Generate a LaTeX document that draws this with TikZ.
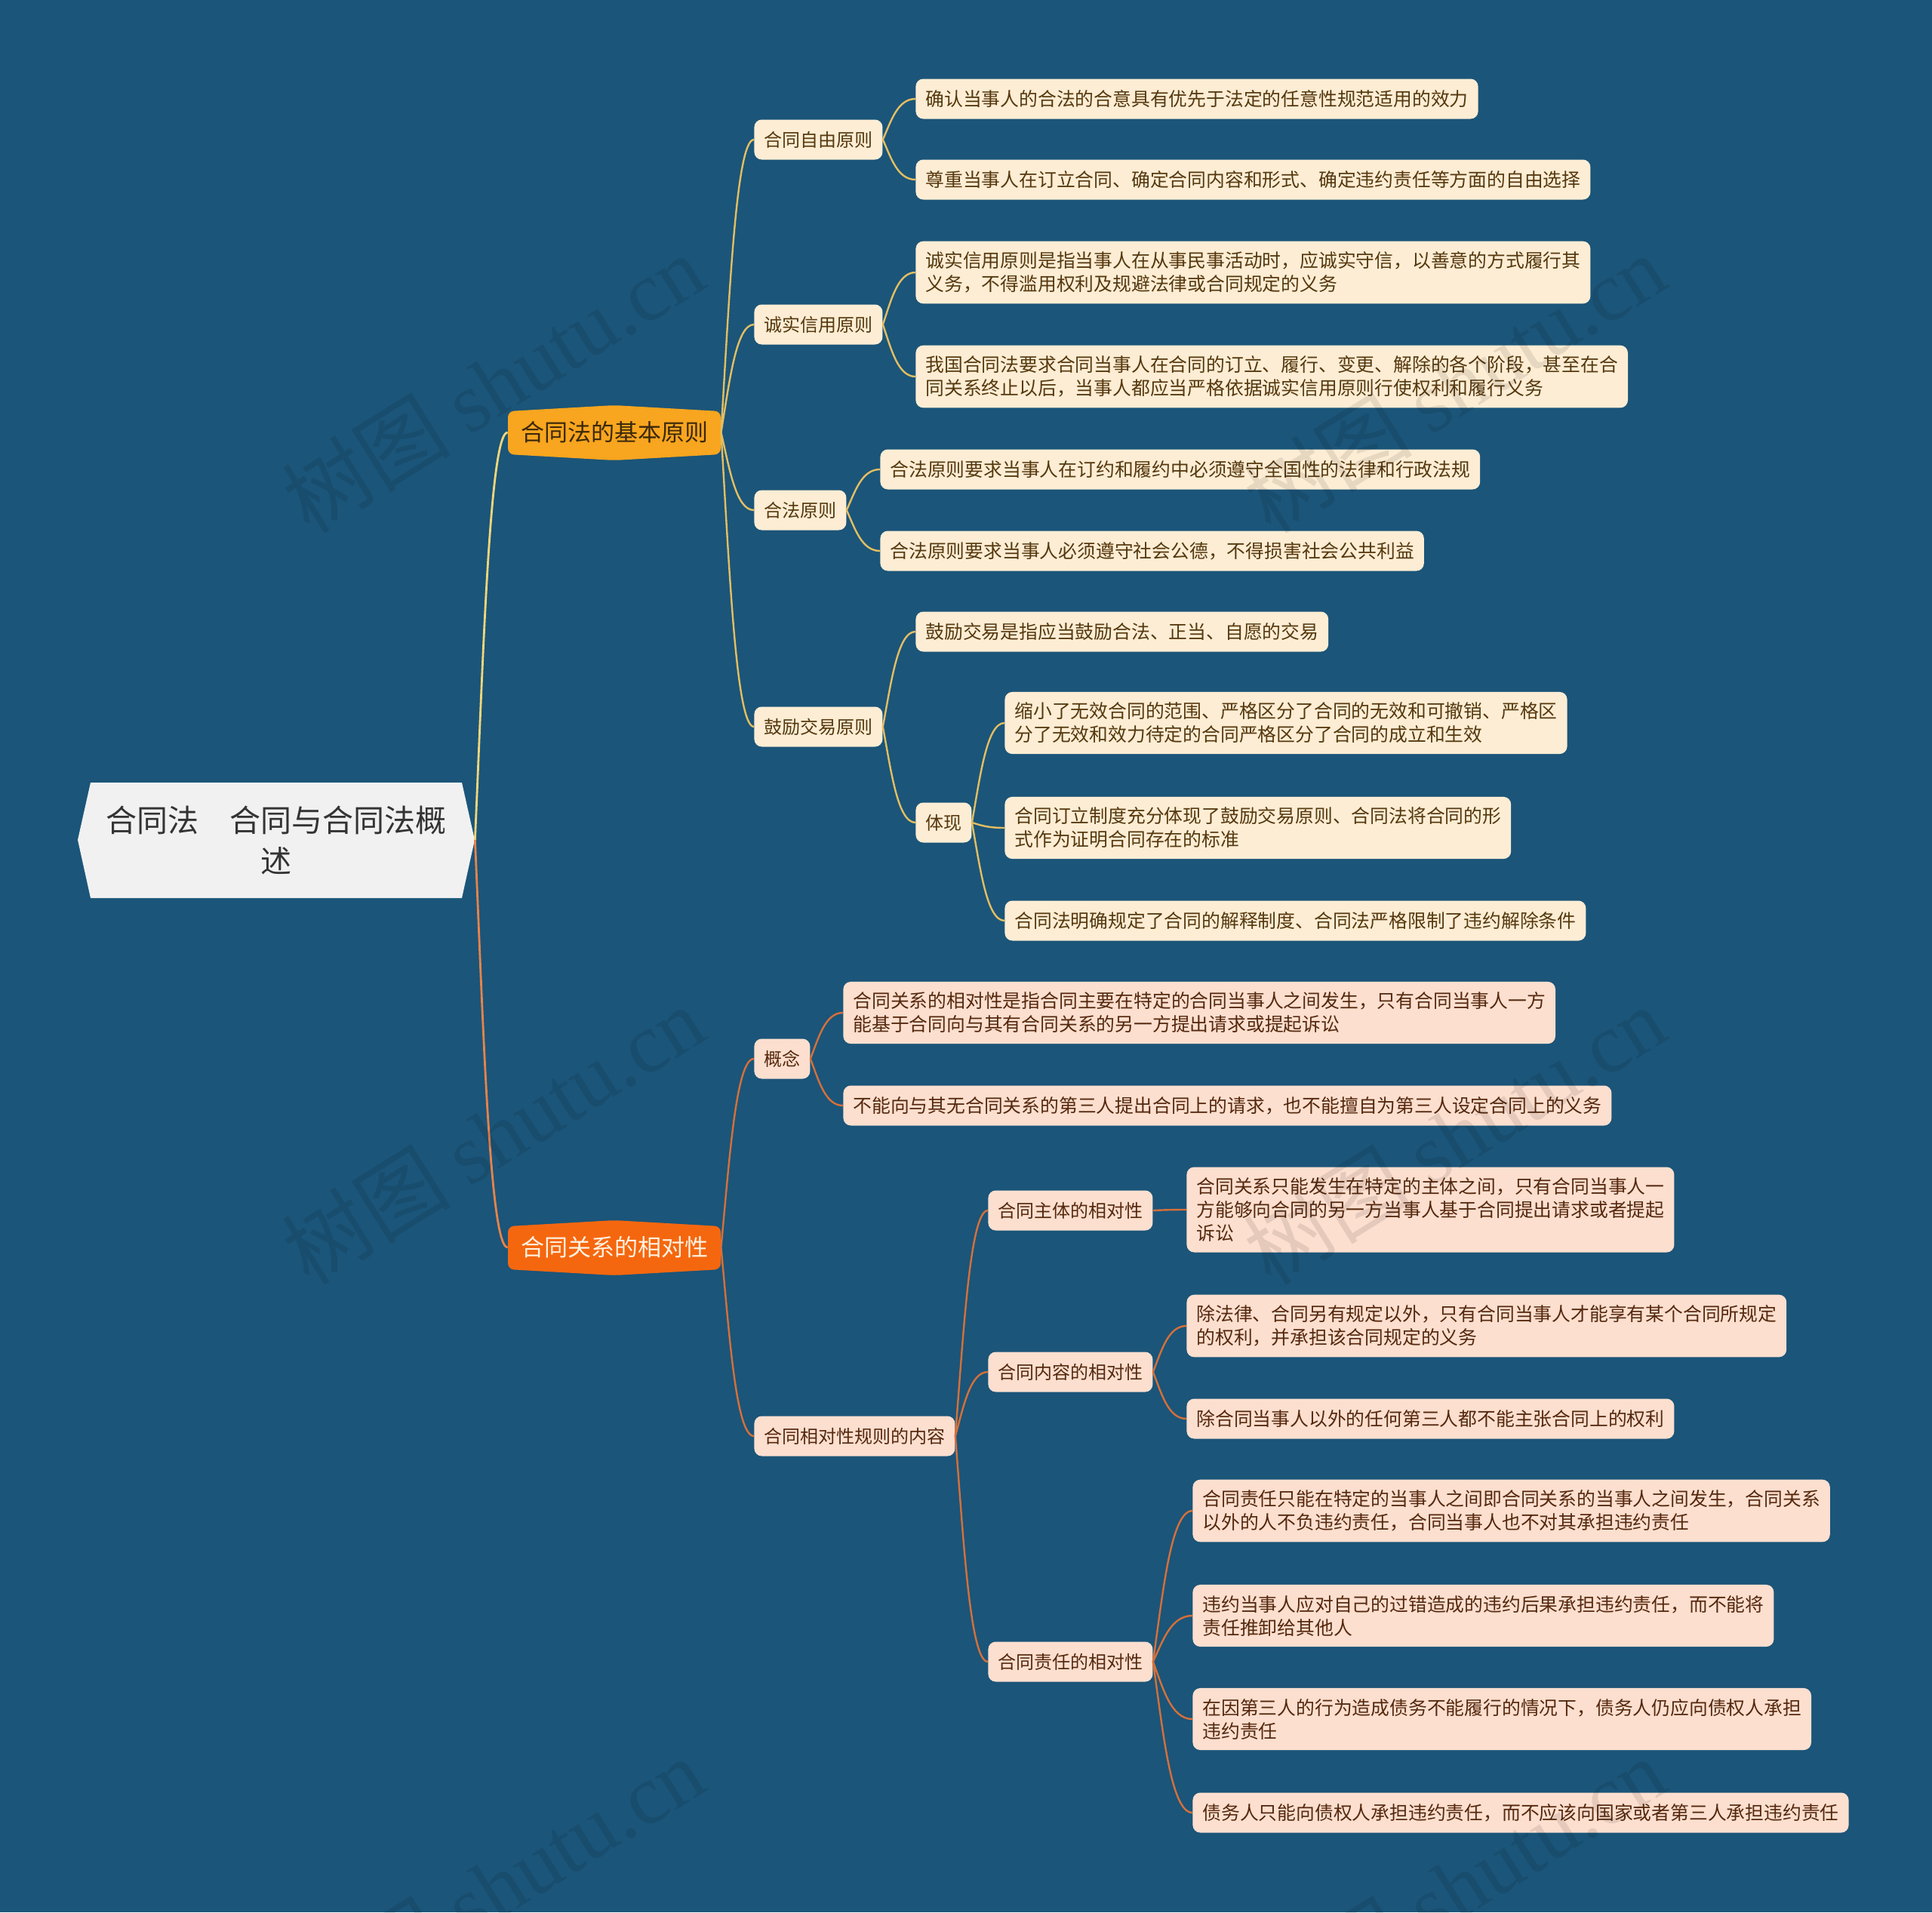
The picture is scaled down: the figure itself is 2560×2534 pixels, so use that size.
\documentclass[tikz,border=0pt]{standalone}
\usepackage{fontspec}
\setmainfont{Noto Sans CJK SC}
\newfontfamily\wmlatin{Liberation Serif}
\usetikzlibrary{calc}
\definecolor{bg}{HTML}{1B5579}
\definecolor{rootfill}{HTML}{F1F1F1}
\definecolor{roottxt}{HTML}{333333}
\definecolor{pfillU}{HTML}{F8A51F}
\definecolor{ptxtU}{HTML}{3A280A}
\definecolor{pfillL}{HTML}{F5670F}
\definecolor{ptxtL}{HTML}{FFF2E2}
\definecolor{boxU}{HTML}{FDEDD4}
\definecolor{txtU}{HTML}{55380E}
\definecolor{boxL}{HTML}{FCDFCF}
\definecolor{txtL}{HTML}{55280E}
\definecolor{lineU}{HTML}{E3BE62}
\definecolor{lineRU}{HTML}{F2D67A}
\definecolor{lineL}{HTML}{D5703A}
\definecolor{lineRL}{HTML}{E8834A}
\tikzset{
  midU/.style={anchor=west, fill=boxU, text=txtU, rounded corners=5pt,
    inner xsep=6.5pt, inner ysep=7pt, minimum height=26.5pt, align=left,
    font=\fontsize{12pt}{15.5pt}\selectfont},
  midL/.style={midU, fill=boxL, text=txtL},
  leafU/.style={midU, font=\fontsize{12.4pt}{15.5pt}\selectfont},
  leafL/.style={midL, font=\fontsize{12.4pt}{15.5pt}\selectfont},
  lvlone/.style={minimum width=141pt, minimum height=28.5pt, inner sep=0pt,
    font=\fontsize{15.5pt}{19pt}\selectfont},
  cU/.style={draw=lineU, line width=1.2pt},
  cL/.style={draw=lineL, line width=1.2pt},
  cRU/.style={draw=lineRU, line width=1.4pt},
  cRL/.style={draw=lineRL, line width=1.4pt},
  wm/.style={rotate=32, text=black, opacity=0.09, font=\fontsize{56pt}{60pt}\selectfont}
}
\newcommand\cnx[3]{\draw[#1] let \p1=(#2), \p2=(#3) in (\p1) .. controls ({\x1+0.25*(\x2-\x1)},{\y1+0.45*(\y2-\y1)}) and ({\x1+0.45*(\x2-\x1)},{\y2}) .. (\p2);}
\begin{document}
\begin{tikzpicture}[x=0.5pt,y=-0.5pt]
\fill[bg] (0,0) rectangle (2560,2534);
\useasboundingbox (0,0) rectangle (2560,2534);

% root
\fill[rootfill] (103,1113) -- (120,1037) -- (612,1037) -- (629,1113) -- (612,1190) -- (120,1190) -- cycle;
\node[minimum width=263pt, minimum height=76pt, inner sep=0pt, text=roottxt, align=center,
  font=\fontsize{20.5pt}{27pt}\selectfont] (root) at (366,1113) {合同法　合同与合同法概\\述};

% level one
\fill[pfillU, rounded corners=4pt] (673,545) -- (814,537) -- (955,545) -- (955,602) -- (814,610) -- (673,602) -- cycle;
\node[lvlone, text=ptxtU] (P1) at (814,573) {合同法的基本原则};
\fill[pfillL, rounded corners=4pt] (673,1625) -- (814,1617) -- (955,1625) -- (955,1682) -- (814,1690) -- (673,1682) -- cycle;
\node[lvlone, text=ptxtL] (P2) at (814,1653) {合同关系的相对性};

% level two (upper)
\node[midU] (A) at (999,185) {合同自由原则};
\node[midU] (B) at (999,430) {诚实信用原则};
\node[midU] (C) at (999,676) {合法原则};
\node[midU] (D) at (999,963) {鼓励交易原则};
\node[midU] (E) at (1213,1090) {体现};

% leaves (upper)
\node[leafU] (L1) at (1213,131) {确认当事人的合法的合意具有优先于法定的任意性规范适用的效力};
\node[leafU] (L2) at (1213,238) {尊重当事人在订立合同、确定合同内容和形式、确定违约责任等方面的自由选择};
\node[leafU] (L3) at (1213,361) {诚实信用原则是指当事人在从事民事活动时，应诚实守信，以善意的方式履行其\\义务，不得滥用权利及规避法律或合同规定的义务};
\node[leafU] (L4) at (1213,499) {我国合同法要求合同当事人在合同的订立、履行、变更、解除的各个阶段，甚至在合\\同关系终止以后，当事人都应当严格依据诚实信用原则行使权利和履行义务};
\node[leafU] (L5) at (1166,622) {合法原则要求当事人在订约和履约中必须遵守全国性的法律和行政法规};
\node[leafU] (L6) at (1166,730) {合法原则要求当事人必须遵守社会公德，不得损害社会公共利益};
\node[leafU] (L7) at (1213,837) {鼓励交易是指应当鼓励合法、正当、自愿的交易};
\node[leafU] (L8) at (1331,958) {缩小了无效合同的范围、严格区分了合同的无效和可撤销、严格区\\分了无效和效力待定的合同严格区分了合同的成立和生效};
\node[leafU] (L9) at (1331,1097) {合同订立制度充分体现了鼓励交易原则、合同法将合同的形\\式作为证明合同存在的标准};
\node[leafU] (L10) at (1331,1220) {合同法明确规定了合同的解释制度、合同法严格限制了违约解除条件};

% level two (lower)
\node[midL] (F) at (999,1403) {概念};
\node[midL] (G) at (999,1903) {合同相对性规则的内容};
\node[midL] (H) at (1309,1604) {合同主体的相对性};
\node[midL] (I) at (1309,1818) {合同内容的相对性};
\node[midL] (J) at (1309,2202) {合同责任的相对性};

% leaves (lower)
\node[leafL] (L11) at (1117,1342) {合同关系的相对性是指合同主要在特定的合同当事人之间发生，只有合同当事人一方\\能基于合同向与其有合同关系的另一方提出请求或提起诉讼};
\node[leafL] (L12) at (1117,1465) {不能向与其无合同关系的第三人提出合同上的请求，也不能擅自为第三人设定合同上的义务};
\node[leafL] (L13) at (1572,1603) {合同关系只能发生在特定的主体之间，只有合同当事人一\\方能够向合同的另一方当事人基于合同提出请求或者提起\\诉讼};
\node[leafL] (L14) at (1572,1757) {除法律、合同另有规定以外，只有合同当事人才能享有某个合同所规定\\的权利，并承担该合同规定的义务};
\node[leafL] (L15) at (1572,1880) {除合同当事人以外的任何第三人都不能主张合同上的权利};
\node[leafL] (L16) at (1580,2002) {合同责任只能在特定的当事人之间即合同关系的当事人之间发生，合同关系\\以外的人不负违约责任，合同当事人也不对其承担违约责任};
\node[leafL] (L17) at (1580,2141) {违约当事人应对自己的过错造成的违约后果承担违约责任，而不能将\\责任推卸给其他人};
\node[leafL] (L18) at (1580,2278) {在因第三人的行为造成债务不能履行的情况下，债务人仍应向债权人承担\\违约责任};
\node[leafL] (L19) at (1580,2402) {债务人只能向债权人承担违约责任，而不应该向国家或者第三人承担违约责任};

% connectors
\cnx{cRU}{root.east}{P1.west}
\cnx{cRL}{root.east}{P2.west}
\cnx{cU}{P1.east}{A.west}
\cnx{cU}{P1.east}{B.west}
\cnx{cU}{P1.east}{C.west}
\cnx{cU}{P1.east}{D.west}
\cnx{cU}{A.east}{L1.west}
\cnx{cU}{A.east}{L2.west}
\cnx{cU}{B.east}{L3.west}
\cnx{cU}{B.east}{L4.west}
\cnx{cU}{C.east}{L5.west}
\cnx{cU}{C.east}{L6.west}
\cnx{cU}{D.east}{L7.west}
\cnx{cU}{D.east}{E.west}
\cnx{cU}{E.east}{L8.west}
\cnx{cU}{E.east}{L9.west}
\cnx{cU}{E.east}{L10.west}
\cnx{cL}{P2.east}{F.west}
\cnx{cL}{P2.east}{G.west}
\cnx{cL}{F.east}{L11.west}
\cnx{cL}{F.east}{L12.west}
\cnx{cL}{G.east}{H.west}
\cnx{cL}{G.east}{I.west}
\cnx{cL}{G.east}{J.west}
\cnx{cL}{H.east}{L13.west}
\cnx{cL}{I.east}{L14.west}
\cnx{cL}{I.east}{L15.west}
\cnx{cL}{J.east}{L16.west}
\cnx{cL}{J.east}{L17.west}
\cnx{cL}{J.east}{L18.west}
\cnx{cL}{J.east}{L19.west}

% watermarks
\node[wm] (w1) at (653,508) {树图 {\wmlatin shutu.cn}};
\node[wm] (w2) at (1927,508) {树图 {\wmlatin shutu.cn}};
\node[wm] (w3) at (653,1504) {树图 {\wmlatin shutu.cn}};
\node[wm] (w4) at (1927,1504) {树图 {\wmlatin shutu.cn}};
\node[wm] (w5) at (653,2500) {树图 {\wmlatin shutu.cn}};
\node[wm] (w6) at (1927,2500) {树图 {\wmlatin shutu.cn}};
\end{tikzpicture}
\end{document}
